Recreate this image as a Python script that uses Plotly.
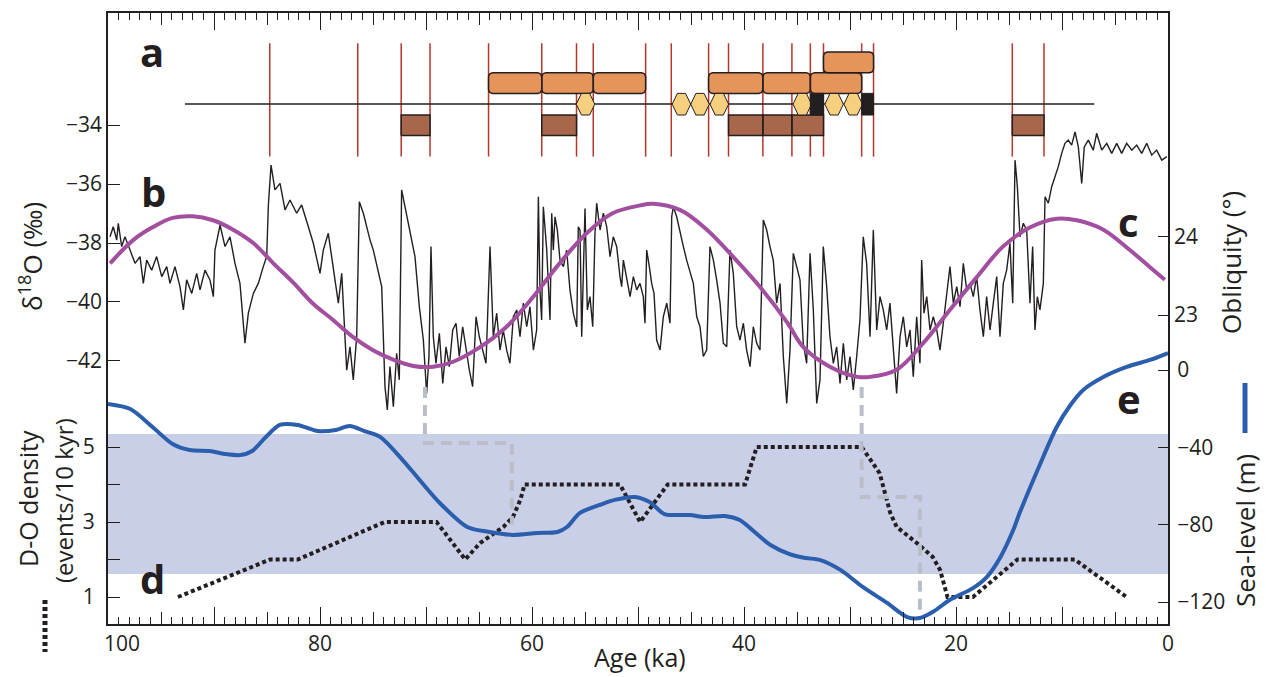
import numpy as np
import plotly.graph_objects as go

# ---------------------------------------------------------------- data
# Greenland ice-core d18O (age ka, permil)
d18o_record = [
    (99.81, -37.79), (99.50, -37.45), (99.18, -37.90), (99.03, -37.33), (98.71, -38.12), (98.40, -37.79),
    (97.92, -38.24), (97.45, -38.69), (96.98, -38.46), (96.67, -39.37), (96.35, -38.58), (95.88, -38.92),
    (95.41, -38.46), (94.93, -39.14), (94.46, -38.80), (94.15, -39.37), (93.68, -38.80), (93.21, -39.48),
    (92.89, -40.27), (92.58, -39.25), (92.10, -39.71), (91.63, -39.03), (91.32, -39.59), (90.85, -38.92),
    (90.38, -39.25), (90.06, -39.82), (89.91, -38.24), (89.43, -37.39), (88.96, -38.12), (88.49, -37.79),
    (88.02, -38.69), (87.55, -39.37), (87.08, -41.40), (86.76, -40.38), (86.29, -39.71), (85.82, -39.37),
    (85.35, -38.80), (85.03, -38.46), (84.87, -36.71), (84.62, -35.36), (84.25, -36.20), (83.77, -35.98),
    (83.30, -36.88), (82.83, -36.54), (82.20, -36.99), (81.73, -36.71), (81.10, -37.45), (80.63, -38.01),
    (80.00, -39.03), (79.69, -38.24), (79.22, -37.67), (78.74, -38.92), (78.27, -40.04), (77.95, -39.03),
    (77.48, -42.31), (77.17, -41.52), (76.86, -42.64), (76.54, -41.18), (76.29, -36.60), (75.91, -36.99),
    (75.60, -37.45), (75.28, -37.90), (74.97, -38.24), (74.50, -39.03), (74.18, -39.48), (73.87, -42.87),
    (73.65, -43.66), (73.40, -42.19), (73.08, -43.55), (72.77, -41.74), (72.52, -42.64), (72.30, -36.20),
    (71.98, -36.77), (71.67, -37.45), (71.35, -38.01), (71.04, -38.46), (70.63, -40.16), (70.25, -41.29),
    (69.94, -43.10), (69.72, -41.85), (69.53, -38.12), (69.31, -41.18), (69.06, -42.08), (68.74, -41.06),
    (68.42, -42.76), (68.11, -41.52), (67.80, -42.19), (67.48, -40.95), (67.17, -40.72), (66.86, -41.85),
    (66.54, -40.84), (66.23, -41.63), (65.91, -42.31), (65.60, -42.87), (65.28, -40.50), (64.97, -41.18),
    (64.65, -41.63), (64.34, -42.08), (63.96, -38.12), (63.65, -41.18), (63.33, -40.38), (63.02, -41.63),
    (62.71, -40.95), (62.39, -41.63), (62.08, -42.08), (61.76, -40.50), (61.44, -40.27), (61.13, -41.18),
    (60.82, -40.04), (60.50, -40.84), (60.19, -40.16), (59.87, -41.63), (59.56, -40.95), (59.40, -36.43),
    (59.25, -39.59), (59.09, -40.61), (58.93, -36.77), (58.61, -38.24), (58.30, -40.61), (58.14, -36.99),
    (57.99, -38.24), (57.83, -37.11), (57.61, -37.56), (57.36, -38.58), (57.04, -38.80), (56.73, -38.24),
    (56.42, -39.59), (56.10, -40.38), (55.78, -40.84), (55.63, -37.45), (55.47, -37.56), (55.31, -41.18),
    (55.00, -36.83), (54.78, -40.27), (54.53, -39.82), (54.27, -40.84), (54.06, -37.67), (53.90, -36.65),
    (53.58, -37.56), (53.27, -36.99), (52.95, -37.45), (52.64, -38.46), (52.33, -37.79), (52.01, -38.12),
    (51.70, -39.14), (51.54, -39.48), (51.38, -38.58), (51.07, -39.25), (50.75, -39.82), (50.44, -39.14),
    (50.12, -39.59), (49.81, -39.37), (49.50, -39.82), (49.34, -40.72), (49.18, -38.24), (48.93, -38.80),
    (48.71, -39.37), (48.49, -39.71), (48.24, -41.29), (47.92, -41.63), (47.61, -40.50), (47.29, -40.04),
    (46.98, -40.72), (46.82, -37.11), (46.67, -36.77), (46.35, -37.11), (46.04, -37.67), (45.72, -38.12),
    (45.41, -38.58), (45.09, -39.03), (44.78, -39.37), (44.46, -40.50), (44.15, -40.84), (43.84, -41.85),
    (43.52, -41.63), (43.21, -38.12), (42.89, -38.58), (42.58, -39.25), (42.26, -40.04), (41.95, -41.40),
    (41.63, -41.52), (41.32, -38.24), (41.01, -39.03), (40.69, -40.84), (40.38, -41.29), (40.06, -40.72),
    (39.75, -41.63), (39.43, -42.19), (39.12, -40.84), (38.80, -41.40), (38.49, -41.63), (38.18, -37.22),
    (37.86, -37.56), (37.55, -38.12), (37.24, -38.58), (36.92, -40.04), (36.60, -39.37), (36.29, -41.85),
    (35.97, -43.44), (35.66, -41.63), (35.35, -38.35), (35.03, -38.80), (34.72, -39.25), (34.41, -41.40),
    (34.09, -42.08), (33.77, -38.35), (33.46, -40.27), (33.14, -43.44), (32.83, -42.64), (32.52, -38.12),
    (32.20, -39.48), (31.89, -41.18), (31.57, -42.08), (31.26, -41.52), (30.94, -42.76), (30.63, -41.40),
    (30.31, -42.64), (30.00, -41.85), (29.69, -42.98), (29.37, -41.85), (29.06, -40.61), (28.75, -37.79),
    (28.43, -38.69), (28.11, -41.18), (27.80, -37.56), (27.48, -40.95), (27.17, -39.82), (26.86, -40.27),
    (26.54, -40.95), (26.23, -40.04), (25.92, -41.52), (25.60, -43.10), (25.28, -41.18), (24.97, -40.50),
    (24.65, -41.52), (24.34, -40.95), (24.03, -42.53), (23.71, -40.50), (23.40, -42.08), (23.24, -38.58),
    (23.02, -40.38), (22.76, -39.82), (22.45, -40.95), (22.14, -40.50), (21.82, -40.95), (21.51, -41.63),
    (21.20, -40.72), (20.88, -39.82), (20.57, -38.80), (20.25, -40.04), (19.93, -39.48), (19.62, -40.16),
    (19.31, -38.69), (18.99, -39.59), (18.68, -39.37), (18.37, -39.82), (18.05, -39.14), (17.74, -40.27),
    (17.42, -41.18), (17.11, -39.82), (16.79, -40.95), (16.48, -40.04), (16.16, -39.14), (15.85, -41.18),
    (15.54, -39.37), (15.22, -38.92), (14.91, -38.01), (14.65, -40.04), (14.43, -35.19), (14.21, -36.09),
    (13.96, -37.79), (13.65, -37.33), (13.33, -37.56), (13.02, -40.04), (12.77, -38.12), (12.55, -40.95),
    (12.33, -39.82), (12.08, -40.27), (11.76, -39.37), (11.60, -36.43), (11.29, -36.65), (10.97, -36.09),
    (10.66, -35.75), (10.35, -35.41), (10.03, -34.96), (9.72, -34.62), (9.41, -34.51), (9.09, -34.68),
    (8.77, -34.23), (8.46, -34.74), (8.14, -35.98), (7.90, -34.74), (7.52, -34.51), (7.05, -34.85),
    (6.73, -34.28), (6.25, -34.85), (5.78, -34.62), (5.31, -34.96), (4.84, -34.62), (4.37, -34.96),
    (3.90, -34.62), (3.42, -34.85), (2.95, -34.68), (2.48, -34.96), (2.01, -34.62), (1.54, -35.02),
    (1.07, -34.85), (0.59, -35.19), (0.12, -35.07),
]

# Orbital obliquity (age ka, degrees)
obliquity_record = [
    (99.8, 23.66), (97.6, 23.96), (95.8, 24.12), (93.9, 24.24), (92.0, 24.26), (90.1, 24.21),
    (88.2, 24.09), (86.3, 23.92), (84.4, 23.66), (82.5, 23.41), (80.7, 23.15), (78.8, 22.94),
    (76.9, 22.72), (75.0, 22.55), (73.1, 22.43), (71.2, 22.35), (69.3, 22.34), (67.5, 22.40),
    (64.9, 22.59), (62.4, 22.85), (59.9, 23.23), (57.4, 23.66), (54.8, 24.05), (52.4, 24.30),
    (49.8, 24.40), (48.6, 24.42), (46.0, 24.34), (43.5, 24.09), (41.0, 23.74), (38.5, 23.36),
    (35.9, 22.90), (34.4, 22.59), (31.9, 22.34), (29.3, 22.21), (28.1, 22.21), (25.6, 22.30),
    (23.1, 22.64), (20.6, 23.06), (18.0, 23.49), (15.6, 23.87), (13.0, 24.12), (10.5, 24.23),
    (8.6, 24.21), (6.1, 24.09), (3.6, 23.83), (1.7, 23.61), (0.3, 23.45),
]

# Relative sea level (age ka, m)
sea_level_record = [
    (100.0, -17.6), (97.9, -20.2), (95.8, -29.5), (93.9, -38.3), (92.3, -41.4), (90.4, -41.9),
    (89.0, -43.4), (87.5, -44.0), (86.4, -41.9), (85.2, -35.2), (83.8, -28.4), (82.1, -28.4),
    (80.2, -31.6), (78.5, -31.0), (77.2, -29.0), (75.8, -31.6), (74.3, -34.7), (72.2, -46.6),
    (70.6, -56.9), (68.7, -68.8), (66.1, -81.2), (64.0, -83.8), (61.8, -85.3), (59.5, -84.3),
    (57.6, -83.8), (56.7, -81.2), (55.5, -74.0), (53.6, -69.8), (52.2, -67.2), (50.3, -65.7),
    (48.9, -68.3), (47.5, -74.5), (45.1, -75.0), (43.7, -76.0), (41.8, -75.5), (40.4, -77.6),
    (39.0, -83.8), (37.5, -90.5), (35.7, -95.2), (34.2, -97.2), (32.8, -98.3), (30.9, -103.4),
    (28.8, -112.2), (26.5, -120.5), (24.6, -127.8), (23.4, -128.3), (22.2, -125.2), (20.6, -119.0),
    (18.4, -112.8), (17.1, -107.1), (15.8, -96.7), (14.6, -82.8), (14.0, -74.0), (12.1, -49.1),
    (10.5, -29.5), (9.2, -18.1), (8.0, -10.3), (6.1, -3.6), (3.9, 1.6), (1.7, 5.2), (0.0, 8.8),
]

# D-O event density (age ka, events per 10 kyr)
do_density_record = [
    (93.4, 1.0), (84.7, 2.0), (82.1, 2.0), (73.9, 3.0), (69.0, 3.0), (66.3, 2.0), (64.9, 2.44),
    (62.7, 2.87), (61.8, 3.13), (61.1, 3.59), (60.7, 4.0), (51.7, 4.0), (49.8, 3.0), (47.2, 4.0),
    (39.9, 4.0), (38.8, 5.0), (28.9, 5.0), (27.2, 4.3), (26.2, 3.24), (25.6, 2.87), (23.7, 2.44),
    (22.2, 2.07), (21.5, 1.72), (20.8, 1.0), (18.4, 1.0), (14.2, 2.0), (8.8, 2.0), (3.9, 1.0),
]

# Sea-level threshold steps (age ka, m)
threshold_steps = [
    [(70.1, -8.8), (70.1, -37.8), (61.9, -37.8), (61.9, -80.0)],
    [(28.9, -8.8), (28.9, -65.7), (23.4, -65.7), (23.4, -126.0)],
]
# Shaded sea-level band (m)
band_sea_level = (-105.5, -33.1)

# Panel a: Greenland interstadial onsets (ka)
gi_onsets = [84.74, 76.44, 72.34, 69.62, 64.10, 59.08, 55.80, 54.22, 49.28, 46.86,
             43.34, 41.46, 38.22, 35.48, 33.74, 32.50, 28.90, 27.78, 14.69, 11.70]
orange_lower = [(64.10, 59.08), (59.08, 54.22), (54.22, 49.28),
                (43.34, 38.22), (38.22, 33.74), (33.74, 28.90)]
orange_upper = [(32.50, 27.78)]
brown_intervals = [(72.34, 69.62), (59.08, 55.80), (41.46, 38.22),
                   (38.22, 35.48), (35.48, 32.50), (14.69, 11.70)]
black_intervals = [(33.74, 32.50), (28.90, 27.78)]
hex_centres = [54.95, 45.90, 44.15, 42.33, 34.50, 31.50, 29.70]
hex_width = 1.75
timeline_span = (92.74, 6.95)

# ---------------------------------------------------------------- style
FONT = "Open Sans"
INK = "#231f20"
PURPLE = "#a34f9f"
BLUE = "#2b5fad"
GREY = "#b9bfc8"
BAND = "#c9cfe7"
RED = "#b5372c"
ORANGE = "#e6955a"
BROWN = "#a8664a"
YELLOW = "#f6cf7f"

# plot box in pixels (left, right, top, bottom)
BOX_L, BOX_R, BOX_T, BOX_B = 108, 1168, 13, 624


def paper(px, py):
    return (px - BOX_L) / (BOX_R - BOX_L), (BOX_B - py) / (BOX_B - BOX_T)


def unzip(pairs):
    return [p[0] for p in pairs], [p[1] for p in pairs]


def joined(polys):
    xs, ys = [], []
    for px_, py_ in polys:
        xs += list(px_) + [None]
        ys += list(py_) + [None]
    return xs, ys


def rounded_box(a0, a1, lo, hi, rx=0.38, ry=0.19, n=6):
    left, right = min(a0, a1), max(a0, a1)
    xs, ys = [], []
    for cx, cy, t0 in [(right - rx, hi - ry, 0), (left + rx, hi - ry, 90),
                       (left + rx, lo + ry, 180), (right - rx, lo + ry, 270)]:
        t = np.radians(np.linspace(t0, t0 + 90, n))
        xs += list(cx + rx * np.cos(t))
        ys += list(cy + ry * np.sin(t))
    return xs + [xs[0]], ys + [ys[0]]


def plain_box(a0, a1, lo, hi):
    return [a0, a1, a1, a0, a0], [lo, lo, hi, hi, lo]


def hexagon(c, w, lo, hi, inset=0.49):
    h = w / 2
    mid = (lo + hi) / 2
    return ([c - h, c - h + inset, c + h - inset, c + h, c + h - inset, c - h + inset, c - h],
            [mid, hi, hi, mid, lo, lo, mid])


fig = go.Figure()

# band behind everything
fig.add_shape(type="rect", xref="paper", x0=0, x1=1, yref="y4",
              y0=band_sea_level[0], y1=band_sea_level[1],
              fillcolor=BAND, line_width=0, layer="below")

# grey threshold steps
tx, ty = joined([unzip(s) for s in threshold_steps])
fig.add_trace(go.Scatter(x=tx, y=ty, xaxis="x2", yaxis="y4", mode="lines",
                         line=dict(color=GREY, width=4, dash="11px,7px"), hoverinfo="skip"))

# sea level
sx, sy = unzip(sea_level_record)
fig.add_trace(go.Scatter(x=sx, y=sy, yaxis="y4", mode="lines",
                         line=dict(color=BLUE, width=4, shape="spline", smoothing=0.8)))

# D-O density
dx_, dy_ = unzip(do_density_record)
fig.add_trace(go.Scatter(x=dx_, y=dy_, yaxis="y3", mode="lines",
                         line=dict(color=INK, width=4, dash="4px,3px")))

# obliquity
ox, oy = unzip(obliquity_record)
fig.add_trace(go.Scatter(x=ox, y=oy, yaxis="y2", mode="lines",
                         line=dict(color=PURPLE, width=4, shape="spline", smoothing=1.0)))

# d18O
ix, iy = unzip(d18o_record)
fig.add_trace(go.Scatter(x=ix, y=iy, yaxis="y", mode="lines",
                         line=dict(color=INK, width=1.4)))

# ---- panel a (rows: 0 timeline, +1/+2 upper boxes, -1 lower boxes)
rx_, ry_ = [], []
for a in gi_onsets:
    rx_ += [a, a, None]
    ry_ += [2.92, -2.53, None]
fig.add_trace(go.Scatter(x=rx_, y=ry_, yaxis="y5", mode="lines",
                         line=dict(color=RED, width=1.5)))
fig.add_trace(go.Scatter(x=list(timeline_span), y=[0, 0], yaxis="y5", mode="lines",
                         line=dict(color=INK, width=1.4)))


def box_trace(polys, fill, edge, width=1.5):
    xs, ys = joined(polys)
    return go.Scatter(x=xs, y=ys, yaxis="y5", mode="lines", fill="toself",
                      fillcolor=fill, line=dict(color=edge, width=width))


fig.add_trace(box_trace([rounded_box(a, b, 0.51, 1.5) for a, b in orange_lower]
                        + [rounded_box(a, b, 1.5, 2.5) for a, b in orange_upper], ORANGE, INK))
fig.add_trace(box_trace([plain_box(a, b, -1.52, -0.53) for a, b in brown_intervals], BROWN, INK))
fig.add_trace(box_trace([hexagon(c, hex_width, -0.53, 0.51) for c in hex_centres], YELLOW, INK, 1.0))
fig.add_trace(box_trace([plain_box(a, b, -0.53, 0.51) for a, b in black_intervals], INK, INK, 1.0))

# ---------------------------------------------------------------- axes
tickfont = dict(family=FONT, size=21, color=INK)
base = dict(showgrid=False, zeroline=False, ticks="inside", tickcolor=INK,
            linecolor=INK, tickfont=tickfont, fixedrange=True)

fig.update_layout(
    width=1266, height=677, autosize=False,
    margin=dict(l=BOX_L, r=1266 - BOX_R, t=BOX_T, b=677 - BOX_B, pad=0),
    paper_bgcolor="white", plot_bgcolor="white", showlegend=False,
    xaxis=dict(base, range=[100, 0], tickmode="linear", tick0=0, dtick=10,
               ticklen=17, tickwidth=1.3, showline=True, linewidth=1.5, mirror="ticks",
               labelalias={"10": "", "30": "", "50": "", "70": "", "90": "", "100": ""},
               minor=dict(ticks="inside", tick0=0, dtick=1, ticklen=7, tickwidth=1,
                          tickcolor=INK)),
    xaxis2=dict(base, overlaying="x", anchor="y", side="bottom", range=[100, 0],
                tickmode="array", tickvals=[5, 15, 25, 35, 45, 55, 65, 75, 85, 95, 100],
                ticktext=[""] * 10 + ["100"], ticklen=12, tickwidth=1.2,
                showline=True, linewidth=1.5, mirror="ticks", ticklabelshift=-14),
    yaxis=dict(base, range=[-50.92, -30.20], side="left", tickmode="array",
               tickvals=[-42, -40, -38, -36, -34],
               ticktext=["\u221242", "\u221240", "\u221238", "\u221236", "\u221234"],
               ticklen=12, tickwidth=1.3, showline=True, linewidth=1.5),
    yaxis3=dict(base, overlaying="y", anchor="x", side="left", range=[0.28, 16.573],
                tickmode="array", tickvals=[1, 2, 3, 4, 5], ticktext=["1", "", "3", "", "5"],
                ticklen=12, tickwidth=1.3, ticklabelstandoff=8),
    yaxis2=dict(base, overlaying="y", anchor="x", side="right", range=[19.054, 26.857],
                tickmode="array", tickvals=[23, 24], ticktext=["23", "24"],
                ticklen=10, tickwidth=1.3, showline=True, linewidth=1.5),
    yaxis4=dict(base, overlaying="y", anchor="x", side="right", range=[-131.38, 184.66],
                tickmode="array", tickvals=[-120, -80, -40, 0],
                ticktext=["\u2212120", "\u221280", "\u221240", "0"],
                ticklen=10, tickwidth=1.3, ticklabelstandoff=4),
    yaxis5=dict(overlaying="y", anchor="x", range=[-25.0, 4.375], visible=False,
                fixedrange=True),
)

# ---------------------------------------------------------------- text
annotations = []


def label(text, px, py, size, angle=0, bold=False):
    x, y = paper(px, py)
    annotations.append(dict(text=f"<b>{text}</b>" if bold else text, x=x, y=y,
                            xref="paper", yref="paper", showarrow=False,
                            xanchor="center", yanchor="middle", textangle=angle,
                            font=dict(family=FONT, size=size, color=INK)))


for letter, px, py in [("a", 152, 51), ("b", 153, 191), ("c", 1128, 221),
                       ("d", 152, 578), ("e", 1129, 398)]:
    label(letter, px, py, 40, bold=True)

label("Age (ka)", 640, 657, 25)
label("\u03b4<sup>18</sup>O (\u2030)", 31, 257, 26, angle=-90)
label("D-O density", 28, 499, 25, angle=-90)
label("(events/10 kyr)", 63, 501, 24, angle=-90)
label("Obliquity (\u00b0)", 1231, 263, 26, angle=-90)
label("Sea-level (m)", 1245, 531, 26, angle=-90)
fig.update_layout(annotations=annotations)

# series key marks beside the axis titles
bx, by0 = paper(1245, 383)
_, by1 = paper(1245, 433)
fig.add_shape(type="line", xref="paper", yref="paper", x0=bx, x1=bx, y0=by0, y1=by1,
              line=dict(color=BLUE, width=5))
kx, ky0 = paper(45, 600)
_, ky1 = paper(45, 652)
fig.add_shape(type="line", xref="paper", yref="paper", x0=kx, x1=kx, y0=ky0, y1=ky1,
              line=dict(color=INK, width=5, dash="4px,3px"))

fig.write_html("out.html")
